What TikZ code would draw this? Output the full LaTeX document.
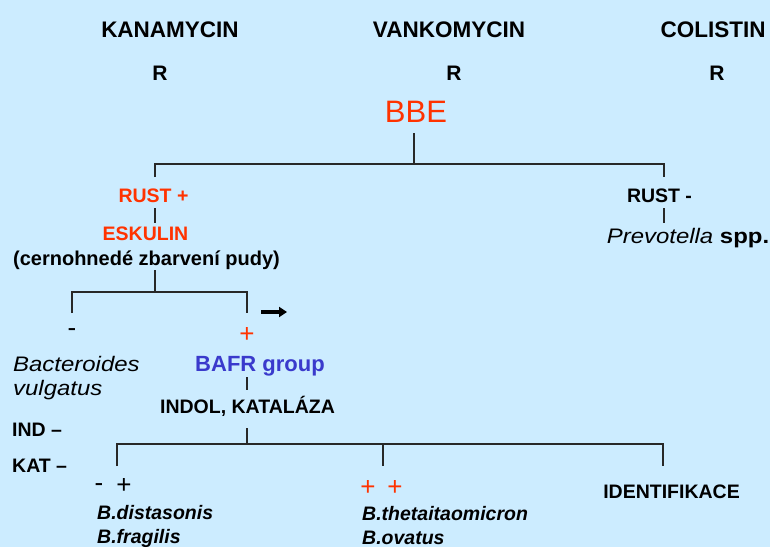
\documentclass[tikz,border=0pt]{standalone}
\usepackage{fontspec}
\setmainfont{Liberation Sans}
\newfontfamily\widesans[FakeStretch=1.14]{Liberation Sans}
\usetikzlibrary{arrows.meta}
\definecolor{bgblue}{RGB}{204,236,255}
\definecolor{alertred}{RGB}{255,51,0}
\definecolor{groupblue}{RGB}{58,58,204}
\definecolor{treeline}{RGB}{40,40,40}
\tikzset{
  txt/.style={inner sep=0pt, anchor=base},
  head/.style={txt, font=\fontsize{22.5}{26}\selectfont\bfseries},
  lab/.style={txt, font=\fontsize{19.5}{23}\selectfont\bfseries},
  species/.style={txt, anchor=base west, font=\fontsize{19.5}{22}\selectfont\bfseries\itshape},
  sign/.style={inner sep=0pt, font=\fontsize{26}{28}\selectfont},
  branch/.style={draw=treeline, line width=1.6pt},
}
\begin{document}
\begin{tikzpicture}[x=1pt, y=-1pt]
\path[use as bounding box, fill=bgblue] (0,0) rectangle (770,547);

% antibiotic header
\node[head] (kan) at (170,37) {KANAMYCIN};
\node[head] (van) at (449,37) {VANKOMYCIN};
\node[head] (col) at (713,37) {COLISTIN};
\node[txt, font=\fontsize{21}{24}\selectfont\bfseries] (rk) at (160,80) {R};
\node[txt, font=\fontsize{21}{24}\selectfont\bfseries] (rv) at (454,80) {R};
\node[txt, font=\fontsize{21}{24}\selectfont\bfseries] (rc) at (717,80) {R};
\node[txt, text=alertred, font=\fontsize{31}{34}\selectfont] (bbe) at (416,122) {BBE};

% first split: growth on BBE
\coordinate (bbeA) at (414,133);
\coordinate (bbeB) at (414,164);
\coordinate (gL) at (155,164);
\coordinate (gR) at (664,164);
\coordinate (gLd) at (155,177);
\coordinate (gRd) at (664,177);
\draw[branch] (bbeA) -- (bbeB);
\draw[branch] (gLd) -- (gL) -- (gR) -- (gRd);

\node[lab, text=alertred] (rustp) at (153.5,202) {RUST +};
\node[lab, text=alertred] (esk) at (145.5,240) {ESKULIN};
\node[txt, font=\fontsize{20}{23}\selectfont\bfseries] (zbarv) at (146.5,265) {(cernohnedé zbarvení pudy)};
\coordinate (rpA) at (155,208);
\coordinate (rpB) at (155,223);
\draw[branch] (rpA) -- (rpB);

\node[lab] (rustm) at (659.5,202) {RUST -};
\node[txt, font=\fontsize{21}{24}\selectfont\widesans] (prev) at (688,243) {\itshape Prevotella\/ \bfseries\upshape spp.};
\coordinate (rmA) at (664,208);
\coordinate (rmB) at (664,223);
\draw[branch] (rmA) -- (rmB);

% second split: esculin
\coordinate (eA) at (155,270);
\coordinate (eB) at (155,292);
\coordinate (eL) at (72,292);
\coordinate (eR) at (247,292);
\coordinate (eLd) at (72,313);
\coordinate (eRd) at (247,313);
\draw[branch] (eA) -- (eB);
\draw[branch] (eLd) -- (eL) -- (eR) -- (eRd);

\coordinate (arA) at (261,312);
\coordinate (arB) at (287,312);
\draw[line width=4pt, -{Triangle[length=8pt, width=10pt]}] (arA) -- (arB);

\node[sign] (eminus) at (72,333) {-};
\node[sign, text=alertred] (eplus) at (247,335) {+};

\node[txt, anchor=base west, font=\fontsize{21}{24}\selectfont\widesans\itshape] (bact) at (13,371) {Bacteroides};
\node[txt, anchor=base west, font=\fontsize{21}{24}\selectfont\widesans\itshape] (vulg) at (13,395) {vulgatus};
\node[txt, text=groupblue, font=\fontsize{22}{25}\selectfont\bfseries] (bafr) at (260,371) {BAFR group};
\coordinate (bA) at (247,377);
\coordinate (bB) at (247,390);
\draw[branch] (bA) -- (bB);
\node[lab] (indkat) at (247.5,413) {INDOL, KATALÁZA};

\node[lab, anchor=base west] (ind) at (12,436) {IND –};
\node[lab, anchor=base west] (kat) at (12,472) {KAT –};

% third split: indole and catalase
\coordinate (iA) at (247,428);
\coordinate (iB) at (247,444);
\coordinate (iL) at (117,444);
\coordinate (iM) at (383,444);
\coordinate (iR) at (663,444);
\coordinate (iLd) at (117,466);
\coordinate (iMd) at (383,466);
\coordinate (iRd) at (663,466);
\draw[branch] (iA) -- (iB);
\draw[branch] (iLd) -- (iL) -- (iR) -- (iRd);
\draw[branch] (iM) -- (iMd);

\node[sign] (m1) at (99,488) {-};
\node[sign] (p1) at (124,486) {+};
\node[sign, text=alertred] (p2) at (368,488) {+};
\node[sign, text=alertred] (p3) at (395,488) {+};

\node[species] (bdist) at (97,519) {B.distasonis};
\node[species] (bfrag) at (97,543) {B.fragilis};
\node[species] (btheta) at (362,520) {B.thetaitaomicron};
\node[species] (bovat) at (362,544) {B.ovatus};
\node[lab] (ident) at (671.5,498) {IDENTIFIKACE};
\end{tikzpicture}
\end{document}
